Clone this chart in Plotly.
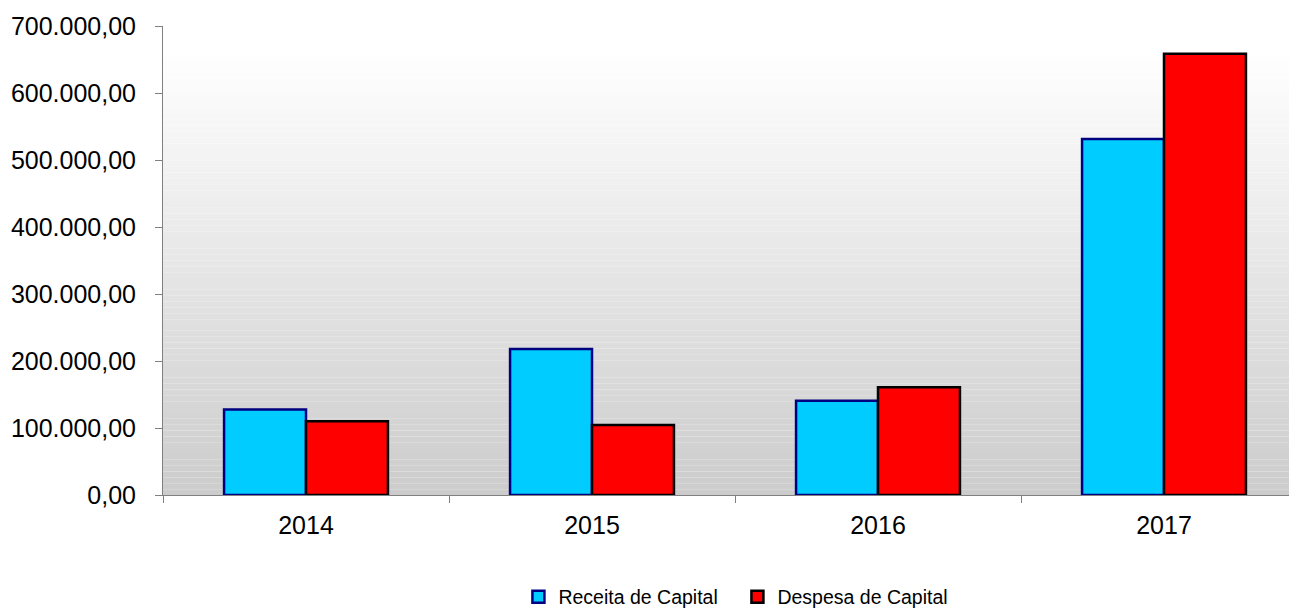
import plotly.graph_objects as go

years = ["2014", "2015", "2016", "2017"]
receita = [127600, 217900, 140700, 531300]
despesa = [110000, 104500, 160700, 658700]
series_names = ["Receita de Capital", "Despesa de Capital"]
y_ticks = [0, 100000, 200000, 300000, 400000, 500000, 600000, 700000]

fig = go.Figure()
fig.add_trace(go.Bar(x=years, y=receita, name=series_names[0],
                     marker=dict(color="#00CCFF", line=dict(color="#000080", width=2.5))))
fig.add_trace(go.Bar(x=years, y=despesa, name=series_names[1],
                     marker=dict(color="#FF0000", line=dict(color="#000000", width=2.5))))

# gradient plot background (white at top -> light gray at bottom)
n = 80
shapes = []
for i in range(n):
    t = (i + 0.5) / n  # 0 bottom -> 1 top
    v = int(round(204 + (255 - 204) * min(1.0, t / 0.95)))
    shapes.append(dict(type="rect", xref="paper", yref="paper", x0=0, x1=1,
                       y0=i / n, y1=(i + 1) / n, fillcolor=f"rgb({v},{v},{v})",
                       line=dict(width=0), layer="below"))

fig.update_layout(
    width=1297, height=608,
    margin=dict(l=155, r=0, t=18, b=121, autoexpand=False),
    paper_bgcolor="white", plot_bgcolor="rgba(0,0,0,0)",
    separators=",.",
    barmode="group", bargap=0.427, bargroupgap=0,
    font=dict(family="Liberation Sans, Arial, sans-serif", color="black"),
    shapes=shapes,
    showlegend=True,
    legend=dict(orientation="h", x=0.503, xanchor="center", y=-0.2175, yanchor="middle",
                font=dict(size=19.5), bgcolor="rgba(0,0,0,0)",
                entrywidth=174, entrywidthmode="pixels"),
    xaxis=dict(range=[-0.5, 3.493], showline=True, linecolor="#808080", linewidth=1,
               ticks="outside", tickson="boundaries", ticklen=7, tickcolor="#808080",
               tickfont=dict(size=25), showgrid=False, ticklabelstandoff=8,
               automargin=False),
    yaxis=dict(range=[0, 700000], tickvals=y_ticks, tickformat=",.2f",
               showline=True, linecolor="#808080", linewidth=1, ticks="outside",
               ticklen=7, tickcolor="#808080", tickfont=dict(size=25),
               showgrid=False, zeroline=False, ticklabelstandoff=14,
               automargin=False),
)

fig.write_html("out.html")
